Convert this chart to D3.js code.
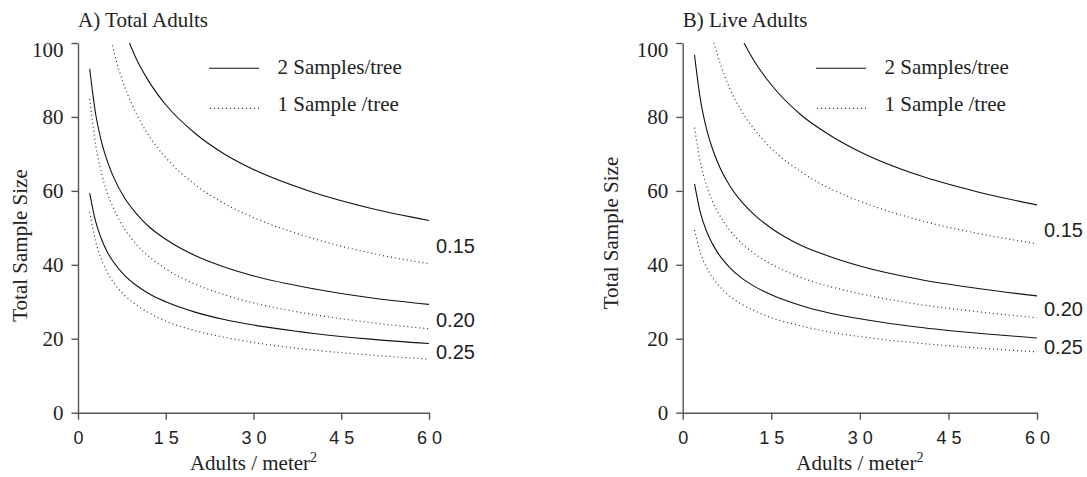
<!DOCTYPE html>
<html>
<head>
<meta charset="utf-8">
<script src="https://cdn.jsdelivr.net/npm/d3@7"></script>
<style>
  body { margin: 0; background: #fff; }
</style>
</head>
<body>
<svg id="chart" width="1087" height="477"></svg>
<script>
var density = [2, 3, 4, 5, 6, 8, 10, 12, 15, 20, 25, 30, 40, 50, 60];
var precision = ['0.15', '0.20', '0.25'];
var xTicks = [0, 15, 30, 45, 60];
var yTicks = [0, 20, 40, 60, 80, 100];

// A) Total adults
var totalTwo15 = [null, null, null, null, null, 103.2, 95.6, 89.9, 83.3, 75.6, 70.0, 65.8, 59.7, 55.3, 52.0];
var totalTwo20 = [93.0, 81.0, 73.4, 68.1, 64.0, 58.0, 53.8, 50.5, 46.9, 42.5, 39.4, 37.0, 33.6, 31.1, 29.3];
var totalTwo25 = [59.4, 51.8, 47.0, 43.5, 40.9, 37.1, 34.4, 32.3, 30.0, 27.2, 25.2, 23.7, 21.5, 19.9, 18.7];
var totalOne15 = [null, null, null, 105.7, 98.5, 88.1, 80.8, 75.2, 69.0, 61.7, 56.6, 52.8, 47.2, 43.2, 40.3];
var totalOne20 = [84.9, 72.6, 64.9, 59.5, 55.5, 49.6, 45.5, 42.4, 38.9, 34.8, 31.9, 29.7, 26.6, 24.4, 22.7];
var totalOne25 = [54.3, 46.4, 41.5, 38.0, 35.4, 31.7, 29.1, 27.1, 24.8, 22.2, 20.4, 19.0, 17.0, 15.6, 14.5];

// B) Live adults
var liveTwo15 = [null, null, null, null, null, 109.0, 101.3, 95.4, 88.7, 80.6, 75.0, 70.6, 64.2, 59.7, 56.2];
var liveTwo20 = [96.8, 84.7, 77.0, 71.6, 67.4, 61.3, 57.0, 53.7, 49.9, 45.3, 42.2, 39.7, 36.1, 33.6, 31.6];
var liveTwo25 = [61.9, 54.1, 49.2, 45.8, 43.1, 39.2, 36.4, 34.3, 31.9, 29.0, 26.9, 25.4, 23.1, 21.5, 20.2];
var liveOne15 = [null, null, 109.6, 102.0, 96.2, 87.6, 81.5, 76.9, 71.5, 65.2, 60.6, 57.2, 52.1, 48.5, 45.7];
var liveOne20 = [77.1, 67.6, 61.6, 57.3, 54.1, 49.3, 45.8, 43.2, 40.2, 36.6, 34.1, 32.2, 29.3, 27.3, 25.7];
var liveOne25 = [49.4, 43.3, 39.4, 36.7, 34.6, 31.5, 29.3, 27.7, 25.7, 23.5, 21.8, 20.6, 18.8, 17.5, 16.45];

var SERIF = '"Liberation Serif", "Times New Roman", serif';
var SANS = '"Liberation Sans", Arial, sans-serif';

var svg = d3.select('#chart');

var panels = [
  { id: 'a', title: 'A) Total Adults', x0: 78, x1: 429,
    two: [totalTwo15, totalTwo20, totalTwo25], one: [totalOne15, totalOne20, totalOne25],
    labelAt: [43.2, 23.2, 14.5], legendX: 209, yLabX: 26.7, yLabY: 245.5 },
  { id: 'b', title: 'B) Live Adults', x0: 682.7, x1: 1037,
    two: [liveTwo15, liveTwo20, liveTwo25], one: [liveOne15, liveOne20, liveOne25],
    labelAt: [47.6, 26.2, 15.9], legendX: 816, yLabX: 618, yLabY: 233 }
];

panels.forEach(function(p) {
  var x = d3.scaleLinear().domain([0, 60]).range([p.x0, p.x1]);
  var y = d3.scaleLinear().domain([0, 100]).range([412.7, 43]);
  var g = svg.append('g');

  // Clip
  svg.append('clipPath').attr('id', 'clip-' + p.id)
    .append('rect')
    .attr('x', x(0)).attr('y', y(100))
    .attr('width', x(60) - x(0)).attr('height', y(0) - y(100));

  // Achsen
  var xAxis = g.append('g')
    .attr('transform', 'translate(0,' + y(0) + ')')
    .call(d3.axisBottom(x).tickValues(xTicks).tickSizeOuter(0).tickSizeInner(7).tickPadding(12));
  var yAxis = g.append('g')
    .attr('transform', 'translate(' + x(0) + ',0)')
    .call(d3.axisLeft(y).tickValues(yTicks).tickSizeOuter(0).tickSizeInner(6.5).tickPadding(8));

  g.selectAll('.domain, .tick line').attr('stroke', '#555').attr('stroke-width', 1.4);

  xAxis.selectAll('.tick text')
    .style('font-family', SANS)
    .style('font-size', '18px')
    .style('letter-spacing', '5px')
    .attr('dx', 2.5)
    .attr('fill', '#222');

  yAxis.selectAll('.tick text')
    .style('font-family', SERIF)
    .style('font-size', '21px')
    .attr('fill', '#222')
    .attr('dy', function(d) { return d === 100 ? '0.62em' : '0.33em'; });

  // Kurven
  var line = d3.line()
    .defined(function(d) { return d[1] != null; })
    .x(function(d) { return x(d[0]); })
    .y(function(d) { return y(d[1]); })
    .curve(d3.curveMonotoneX);

  var curves = g.append('g').attr('clip-path', 'url(#clip-' + p.id + ')');
  p.one.forEach(function(vals) {
    curves.append('path')
      .datum(density.map(function(d, i) { return [d, vals[i]]; }))
      .attr('d', line)
      .attr('fill', 'none')
      .attr('stroke', '#333')
      .attr('stroke-width', 1.2)
      .attr('stroke-dasharray', '1,3');
  });
  p.two.forEach(function(vals) {
    curves.append('path')
      .datum(density.map(function(d, i) { return [d, vals[i]]; }))
      .attr('d', line)
      .attr('fill', 'none')
      .attr('stroke', '#111')
      .attr('stroke-width', 1.1);
  });

  // Präzisions-Labels
  g.selectAll('.plabel')
    .data(precision)
    .enter().append('text')
    .attr('x', x(60) + 7)
    .attr('y', function(d, i) { return y(p.labelAt[i]); })
    .style('font-family', SANS)
    .style('font-size', '20px')
    .attr('fill', '#222')
    .text(function(d) { return d; });

  // Titel
  g.append('text')
    .attr('x', x(0))
    .attr('y', 26.5)
    .style('font-family', SERIF)
    .style('font-size', '21px')
    .attr('fill', '#222')
    .text(p.title);

  // Legende
  var leg = g.append('g');
  leg.append('line')
    .attr('x1', p.legendX).attr('x2', p.legendX + 50)
    .attr('y1', 68.3).attr('y2', 68.3)
    .attr('stroke', '#111').attr('stroke-width', 1.1);
  leg.append('line')
    .attr('x1', p.legendX + 1).attr('x2', p.legendX + 50)
    .attr('y1', 108.3).attr('y2', 108.3)
    .attr('stroke', '#333').attr('stroke-width', 1.2).attr('stroke-dasharray', '1,3');
  leg.append('text')
    .style('font-family', SERIF).style('font-size', '21px').attr('fill', '#222')
    .attr('x', p.legendX + 68.5).attr('y', 74)
    .text('2 Samples/tree');
  leg.append('text')
    .style('font-family', SERIF).style('font-size', '21px').attr('fill', '#222')
    .attr('x', p.legendX + 68.5).attr('y', 111)
    .text('1 Sample /tree');

  // Achsentitel
  var xl = g.append('text')
    .style('font-family', SERIF).style('font-size', '21px').attr('fill', '#222')
    .attr('x', (x(0) + x(60)) / 2)
    .attr('y', 470)
    .attr('text-anchor', 'middle');
  xl.append('tspan').text('Adults / meter');
  xl.append('tspan').style('font-size', '14px').attr('dy', -8).text('2');

  g.append('text')
    .style('font-family', SERIF).style('font-size', '21px').attr('fill', '#222')
    .attr('transform', 'translate(' + p.yLabX + ',' + p.yLabY + ') rotate(-90)')
    .attr('text-anchor', 'middle')
    .text('Total Sample Size');
});
</script>
</body>
</html>
